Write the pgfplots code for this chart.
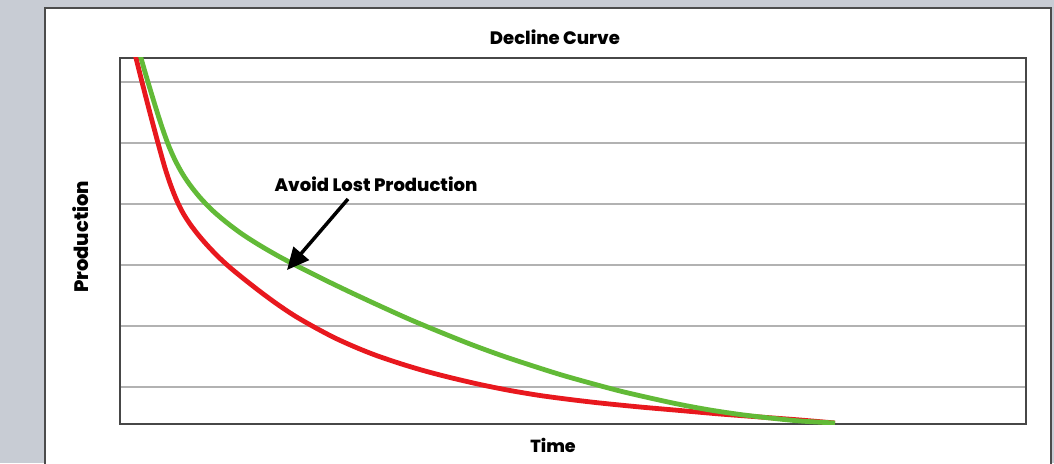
\documentclass[border=0pt]{standalone}
\usepackage{pgfplots}
\pgfplotsset{compat=1.18}
\usepackage{fontspec}
\setmainfont{Poppins}[BoldFont={Poppins ExtraBold}]
\usetikzlibrary{arrows.meta,backgrounds}
\definecolor{redc}{RGB}{232,24,30}
\definecolor{greenc}{RGB}{98,186,55}
\definecolor{bgc}{RGB}{200,204,212}
\begin{document}
\begin{tikzpicture}
\begin{axis}[name=ax, x=1pt, y=1pt, xmin=0, xmax=906, ymin=0, ymax=366,
  axis line style={draw=black!72, line width=1.5pt},
  xtick=\empty, ytick={37,98,159,220,281,342}, yticklabels={},
  ymajorgrids, grid style={draw=black!30, line width=1.5pt},
  major tick length=0pt, clip=true]
\addplot[redc, line width=4.8pt, smooth, tension=0.5] coordinates {
(14,374) (16,366) (22,342) (30,311) (38,281) (45,256) (51,238) (57,223) (63,211)
(70,200) (78,189.5) (87,179) (98,167.5) (110,156.5) (124,145) (140,132.5) (157,120)
(175,108) (195,96.5) (215,86) (235,77) (255,69) (280,60.5) (305,53) (330,46.5)
(360,39.5) (390,33.5) (420,28.5) (450,24.5) (480,21) (520,17) (560,13.5) (600,10)
(640,7) (680,4) (715,1)};
\addplot[greenc, line width=4.8pt, smooth, tension=0.5] coordinates {
(19,373) (21,366) (25,352) (29,338.5) (34,322) (39,306) (44,291) (49,277.5) (55,264)
(62,251) (70,239) (80,226.5) (92,214) (106,202) (122,190) (140,178.5) (160,167)
(182,155.5) (206,143.5) (232,131) (260,118) (290,104.5) (320,92) (350,80) (380,69)
(410,59) (440,49.5) (470,41) (500,33) (530,26) (560,19.5) (590,14) (620,9.5)
(650,6) (680,3) (715,1)};
\end{axis}
\begin{scope}[shift={(ax.origin)}, x=1pt, y=1pt]
\node[font=\bfseries\fontsize{18}{20}\selectfont, inner sep=0pt] at (435,387) {Decline Curve};
\node[font=\bfseries\fontsize{17.5}{20}\selectfont, inner sep=0pt] at (433,-21) {Time};
\node[font=\bfseries\fontsize{19.5}{22}\selectfont, inner sep=0pt, rotate=90] at (-39,187) {Production};
\node[font=\bfseries\fontsize{18}{20}\selectfont, inner sep=0pt] at (256,240) {Avoid Lost Production};
\draw[line width=3.5pt, -{Triangle[length=22pt, width=20pt]}] (228,225) -- (167,154);
\end{scope}
\begin{scope}[on background layer, shift={(ax.origin)}, x=1pt, y=1pt]
\fill[bgc] (-120,-39) rectangle (934,424);
\filldraw[fill=white, draw=black!70, line width=1.5pt] (-75,416) rectangle (931,-60);
\end{scope}
\pgfresetboundingbox
\path[use as bounding box, shift={(ax.origin)}, x=1pt, y=1pt] (-120,-39) rectangle (934,424);
\end{tikzpicture}
\end{document}
